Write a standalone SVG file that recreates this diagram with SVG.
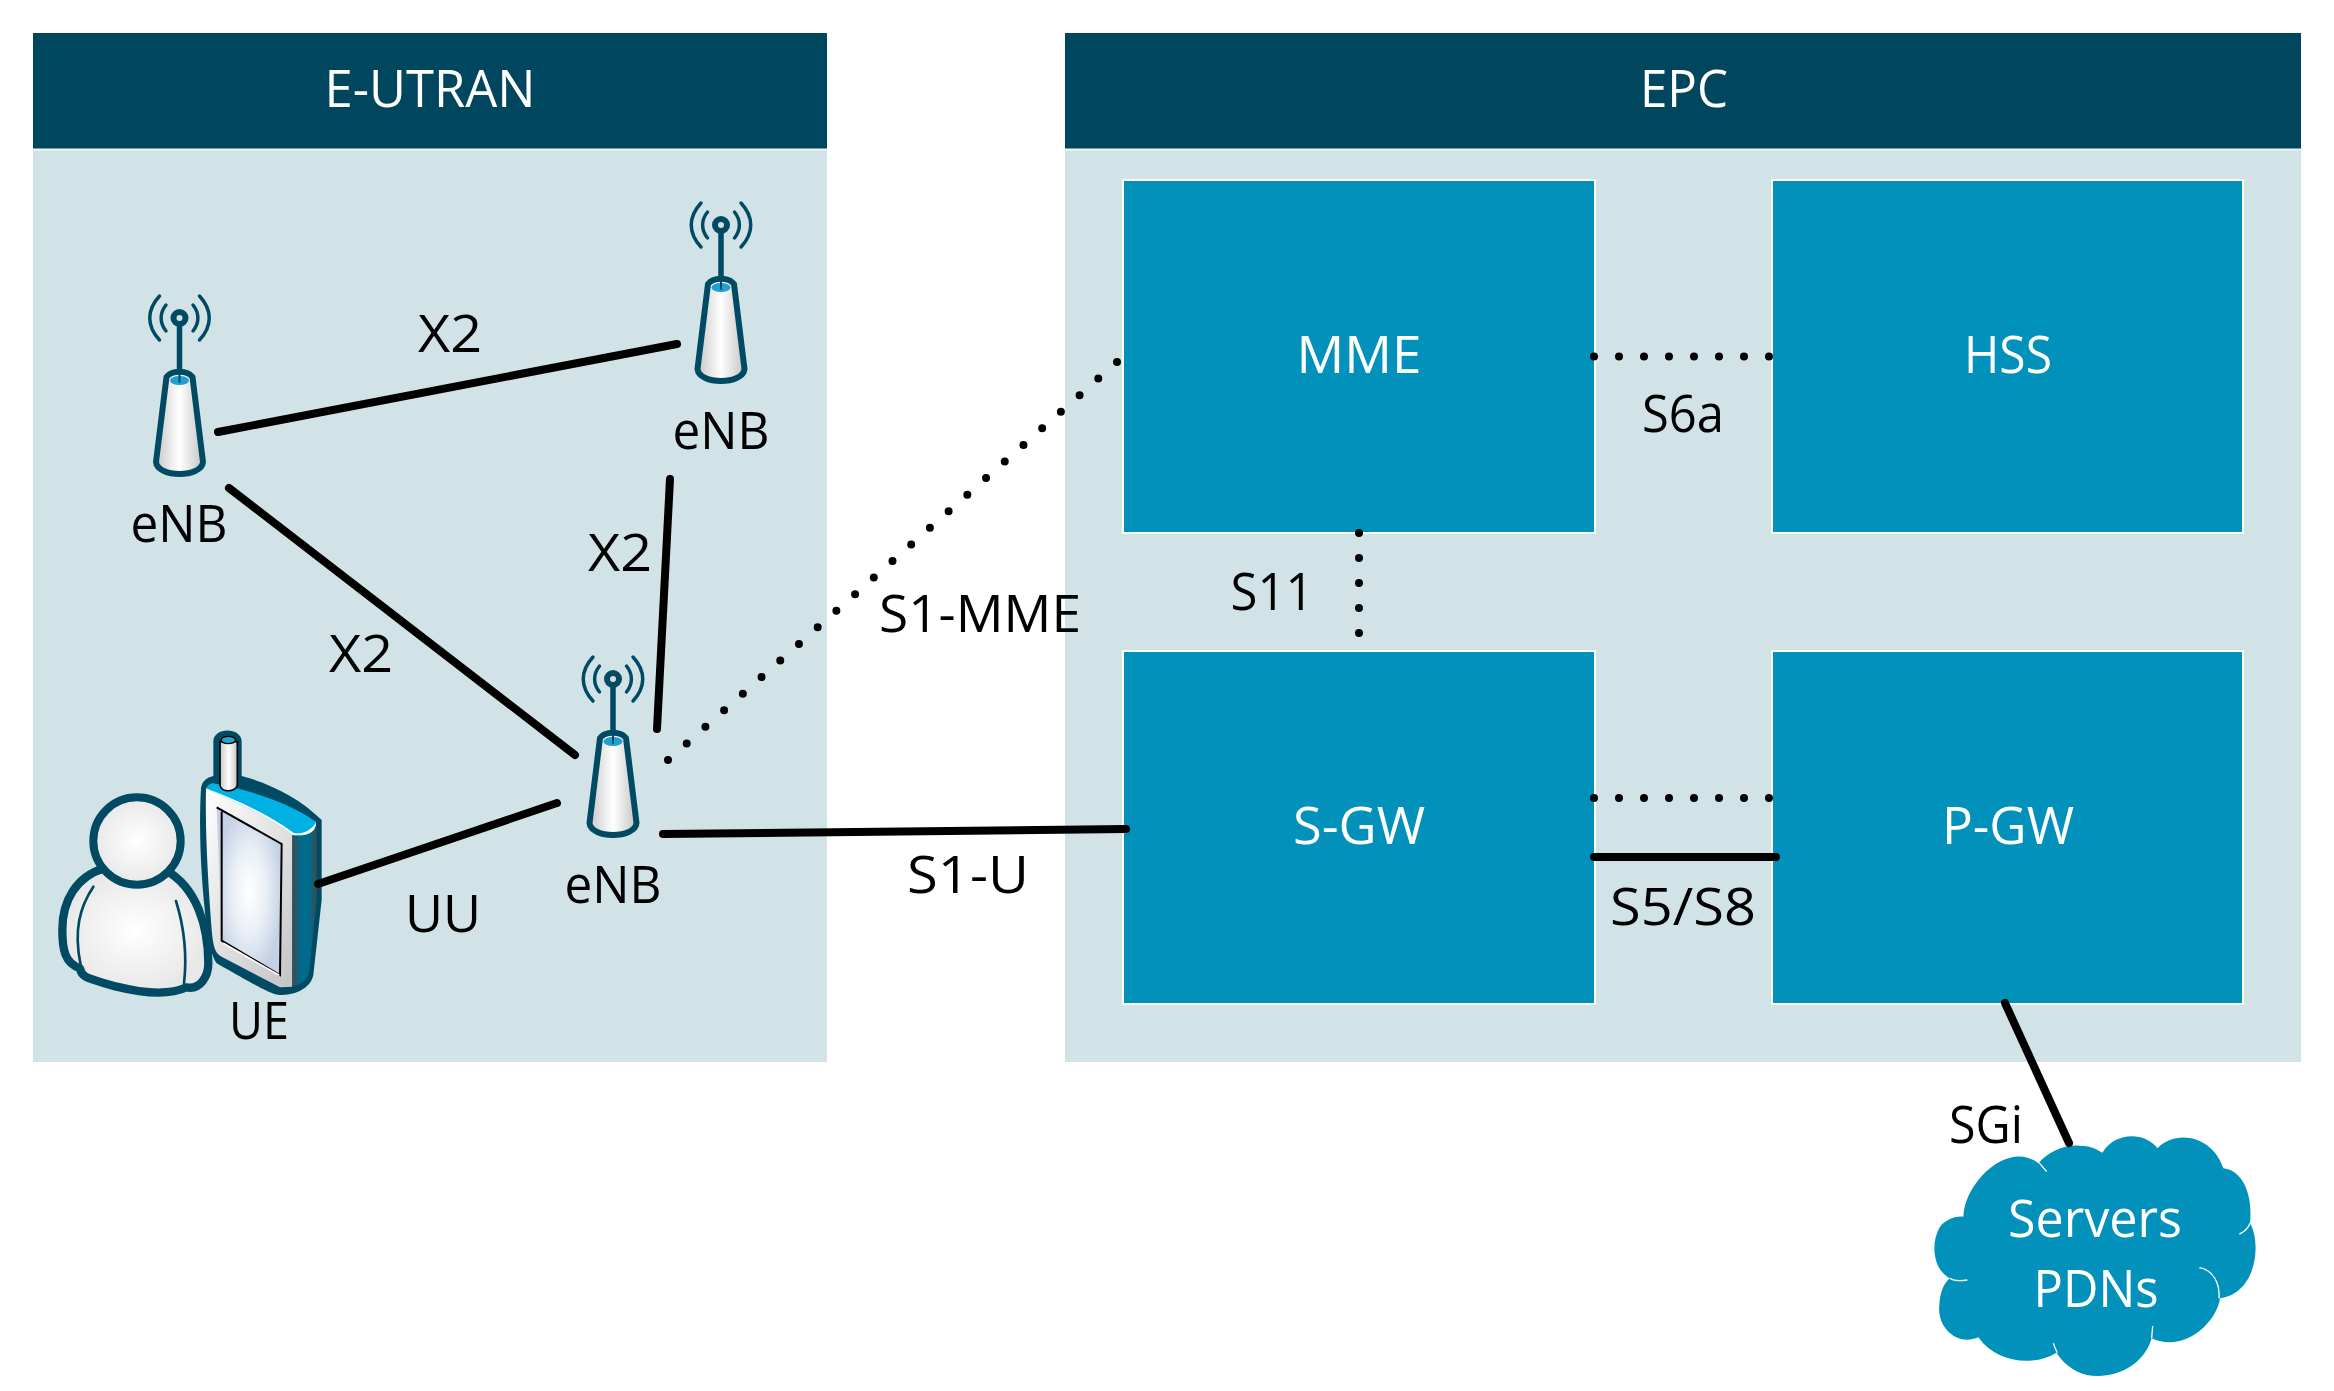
<svg xmlns="http://www.w3.org/2000/svg" width="2334" height="1391" viewBox="0 0 2334 1391">
<style>
text{font-family:"Open Sans","Noto Sans","Liberation Sans",sans-serif;font-size:51px;fill:#000;text-anchor:middle}
.w{fill:#fff}
.hd{fill:#00465f}
.bg{fill:#d2e3e8}
.bx{fill:#0291bb;stroke:#fff;stroke-width:2}
.c{fill:none;stroke:#000;stroke-width:8;stroke-linecap:round}
.d{fill:none;stroke:#000;stroke-width:8;stroke-linecap:round;stroke-dasharray:0 25}
.o{fill:none;stroke:#004a63;stroke-linecap:round}
</style>
<defs>
<linearGradient id="cyl"><stop offset="0" stop-color="#c8c8c8"/><stop offset=".5" stop-color="#fff"/><stop offset="1" stop-color="#c4c4c4"/></linearGradient>
<linearGradient id="side"><stop offset="0" stop-color="#3d4a52"/><stop offset=".35" stop-color="#006b8c"/><stop offset=".7" stop-color="#006b8c"/><stop offset="1" stop-color="#3d4a52"/></linearGradient>
<linearGradient id="face" x1="0" y1="0" x2="1" y2="1"><stop offset="0" stop-color="#fff"/><stop offset="1" stop-color="#bdbdbd"/></linearGradient>
<radialGradient id="per"><stop offset="0" stop-color="#fff"/><stop offset="1" stop-color="#e8e8e8"/></radialGradient>
<radialGradient id="scr"><stop offset="0" stop-color="#fff"/><stop offset=".5" stop-color="#eaf0f7"/><stop offset="1" stop-color="#c6d2e4"/></radialGradient>
<g id="enb">
<path class="o" stroke-width="3.5" d="M-13.5,-13C-20,-5 -20,5 -13.500,13M13.500,-13C20,-5 20,5 13.500,13M-20,-22C-33,-8 -33,8 -20,22M20,-22C33,-8 33,8 20,22"/>
<path class="o" stroke-width="5.5" d="M0,0V62"/>
<circle r="6" fill="#d8dde0" stroke="#004a63" stroke-width="6"/>
<path d="M-13,59C-8,52 8,52 13,59L23.500,144C22,160 -22,160 -23.500,144Z" fill="url(#cyl)" stroke="#004a63" stroke-width="6" stroke-linejoin="round"/>
<ellipse cy="62.500" rx="9.500" ry="4.500" fill="#1ea0d0"/>
<path class="o" stroke-width="2" d="M0,56V64"/>
</g>
</defs>
<g id="panel-eutran"><rect class="bg" x="33" y="149" width="794" height="913"/><rect class="hd" x="33" y="33" width="794" height="116"/><path d="M33,149.500H827" stroke="#eef4f6" stroke-width="2"/><text class="w" x="430" y="107" textLength="211" lengthAdjust="spacingAndGlyphs">E-UTRAN</text></g>
<g id="panel-epc"><rect class="bg" x="1065" y="149" width="1236" height="913"/><rect class="hd" x="1065" y="33" width="1236" height="116"/><path d="M1065,149.500H2301" stroke="#eef4f6" stroke-width="2"/><text class="w" x="1684" y="107" textLength="88" lengthAdjust="spacingAndGlyphs">EPC</text></g>
<g id="mme"><rect class="bx" x="1123" y="180" width="472" height="353"/><text class="w" x="1359" y="373" textLength="125" lengthAdjust="spacingAndGlyphs">MME</text></g>
<g id="hss"><rect class="bx" x="1772" y="180" width="471" height="353"/><text class="w" x="2008" y="373" textLength="88" lengthAdjust="spacingAndGlyphs">HSS</text></g>
<g id="sgw"><rect class="bx" x="1123" y="651" width="472" height="353"/><text class="w" x="1359" y="844" textLength="132" lengthAdjust="spacingAndGlyphs">S-GW</text></g>
<g id="pgw"><rect class="bx" x="1772" y="651" width="471" height="353"/><text class="w" x="2008" y="844" textLength="132" lengthAdjust="spacingAndGlyphs">P-GW</text></g>
<g id="enb1"><use href="#enb" x="179.500" y="318"/><text x="179" y="542" textLength="97" lengthAdjust="spacingAndGlyphs">eNB</text></g>
<g id="enb2"><use href="#enb" x="721" y="225"/><text x="721" y="449" textLength="97" lengthAdjust="spacingAndGlyphs">eNB</text></g>
<g id="enb3"><use href="#enb" x="613" y="679"/><text x="613" y="903" textLength="97" lengthAdjust="spacingAndGlyphs">eNB</text></g>
<g id="ue">
<g transform="translate(30 700) scale(.33333)">
<path d="M513,265C515,245 530,232 550,228V125C550,80 635,80 635,125V228C720,250 810,295 875,360V600L850,825C840,870 790,885 750,885C730,885 700,870 560,790C545,770 535,720 530,680C515,560 505,400 513,265Z" fill="#004a63"/>
<path d="M528,265C640,290 760,340 858,368C858,390 840,405 787,405V860L750,862L575,770C555,760 550,740 546,700C535,560 525,400 528,265Z" fill="url(#face)"/>
<path d="M787,405C840,405 860,390 860,370V600L838,810C835,835 815,855 787,860Z" fill="url(#side)"/>
<path d="M528,265C532,258 540,250 550,250C660,270 780,310 858,365C858,395 835,410 787,405C700,340 620,310 528,265Z" fill="#00b2e3"/>
<path d="M528,265C620,310 700,340 787,405C835,410 858,395 858,368C840,395 810,405 790,398C710,340 620,300 528,265Z" fill="#fff"/>
<path d="M560,322L755,432L750,825L575,722Z" fill="url(#scr)"/>
<path d="M560,322L755,432L750,825L575,722V335" fill="none" stroke="#000" stroke-width="6"/>
<path d="M580,730L748,826" stroke="#fff" stroke-width="5" fill="none"/>
<path d="M570,125V255C572,278 618,278 622,255V125Z" fill="url(#cyl)" stroke="#000" stroke-width="5"/>
<ellipse cx="595" cy="120" rx="22" ry="11" fill="#22a4cc" stroke="#000" stroke-width="4"/>
<path d="M222,505C140,530 97,600 97,690C97,750 105,790 150,805C155,835 175,835 260,860C340,880 420,885 470,862C510,870 535,830 535,790C535,680 500,560 405,510Z" fill="url(#per)" stroke="#004a63" stroke-width="25" stroke-linejoin="round"/>
<circle cx="321" cy="423" r="131" fill="url(#per)" stroke="#004a63" stroke-width="24"/>
<path class="o" stroke-width="8" d="M190,560C150,620 130,690 152,795M438,603C465,690 470,780 462,850"/>
</g>
<text x="259" y="1039" textLength="60" lengthAdjust="spacingAndGlyphs">UE</text>
</g>
<g id="cloud">
<g transform="translate(1920 1110) scale(.33333)">
<path d="M355,160C390,120 440,100 490,108C510,108 530,118 547,128C590,60 680,70 712,115C770,55 880,80 910,175C960,180 1000,240 990,340C1025,400 1010,550 900,565C890,640 790,730 695,685C670,770 580,810 500,795C460,785 425,755 410,728C340,770 230,760 175,682C110,710 50,650 58,585C60,550 70,520 90,505C40,480 30,400 60,350C80,325 110,318 130,320C135,210 270,90 355,160Z" fill="#0291bb"/>
<path d="M357,158L380,185M990,340C985,355 970,368 958,372M838,473C880,480 900,520 897,565M698,648C697,660 696,672 695,685M400,700C404,710 407,720 412,728M90,505C105,515 130,512 142,510" fill="none" stroke="#fff" stroke-width="4"/>
</g>
<text class="w" x="2095" y="1237" textLength="174" lengthAdjust="spacingAndGlyphs">Servers</text><text class="w" x="2096" y="1307" textLength="125" lengthAdjust="spacingAndGlyphs">PDNs</text>
</g>
<g id="connectors">
<path class="c" d="M218,432L677,344M229,488L575,755M670,479L657,729M318,884L557,803M663,834L1126,829M2005,1003L2069,1143M1594,857H1776"/>
<path class="d" d="M668,760L1117,362M1594,356.500H1772M1359,533V640M1594,798H1772"/>
<text x="450" y="352" textLength="64" lengthAdjust="spacingAndGlyphs">X2</text><text x="361" y="672" textLength="64" lengthAdjust="spacingAndGlyphs">X2</text><text x="620" y="571" textLength="64" lengthAdjust="spacingAndGlyphs">X2</text>
<text x="443" y="932" textLength="76" lengthAdjust="spacingAndGlyphs">UU</text><text x="980" y="632" textLength="202" lengthAdjust="spacingAndGlyphs">S1-MME</text><text x="968" y="893" textLength="122" lengthAdjust="spacingAndGlyphs">S1-U</text>
<text x="1683" y="432" textLength="82" lengthAdjust="spacingAndGlyphs">S6a</text><text x="1272" y="610" textLength="83" lengthAdjust="spacingAndGlyphs">S11</text><text x="1683" y="925" textLength="146" lengthAdjust="spacingAndGlyphs">S5/S8</text><text x="1986" y="1143" textLength="74" lengthAdjust="spacingAndGlyphs">SGi</text>
</g>
</svg>
